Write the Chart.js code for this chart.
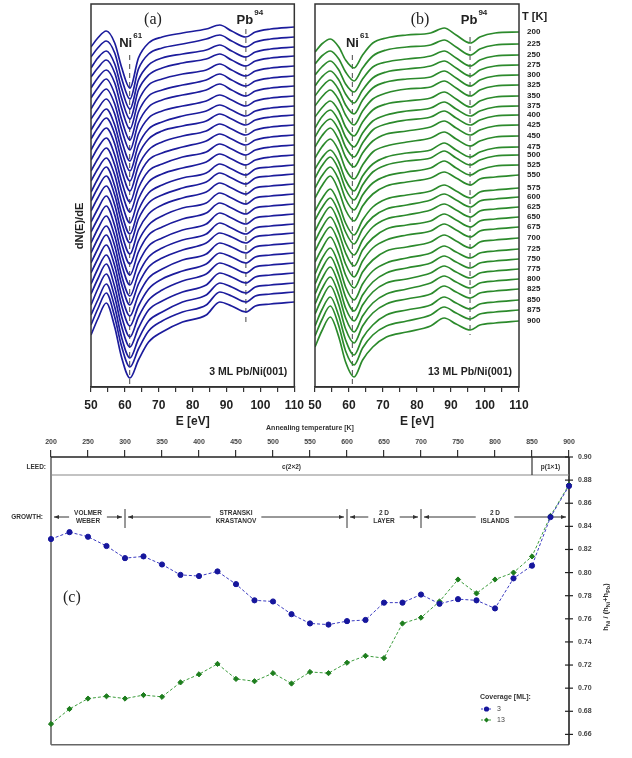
<!DOCTYPE html>
<html>
<head>
<meta charset="utf-8">
<title>Pb/Ni(001) Auger spectra vs annealing</title>
<script src="https://cdn.jsdelivr.net/npm/chart.js@4.4.1/dist/chart.umd.min.js"></script>
<style>
  html, body { margin: 0; padding: 0; background: #fff; }
  #page { position: relative; width: 632px; height: 758px; overflow: hidden; }
  #page canvas { position: absolute; }
</style>
</head>
<body>
<div id="page">
  <canvas id="chartA" width="310" height="430" style="left:0;top:0"></canvas>
  <canvas id="chartB" width="332" height="430" style="left:300px;top:0"></canvas>
  <canvas id="chartC" width="632" height="338" style="left:0;top:420px"></canvas>
</div>
<script>
const SANS = "'Liberation Sans', Arial, sans-serif";
const SERIF = "'Liberation Serif', 'Times New Roman', serif";
Chart.defaults.font.family = SANS;

const energyKeys = [50, 52, 54.5, 57, 59, 61.5, 64, 67, 71, 77, 84, 88, 91.5, 95.7, 98.5, 103, 110];
const tempsK = [200, 225, 250, 275, 300, 325, 350, 375, 400, 425, 450, 475, 500, 525, 550,
                575, 600, 625, 650, 675, 700, 725, 750, 775, 800, 825, 850, 875, 900];

// vertical stacking offsets of each spectrum (a.u.)
const offsetsA = [0, -1.0, -2.0, -2.9, -3.9, -4.9, -5.9, -6.9, -7.9, -8.8, -9.8, -10.8, -11.8, -12.8, -13.8,
                  -14.7, -15.7, -16.7, -17.7, -18.7, -19.7, -20.6, -21.6, -22.6, -23.6, -24.6, -25.6, -26.5, -27.5];
const offsetsB = [0, -1.2, -2.3, -3.3, -4.3, -5.3, -6.4, -7.4, -8.3, -9.3, -10.4, -11.5, -12.3, -13.3, -14.3,
                  -15.6, -16.5, -17.5, -18.5, -19.5, -20.6, -21.7, -22.7, -23.7, -24.7, -25.7, -26.8, -27.8, -28.9];

// dN(E)/dE, 3 ML Pb/Ni(001), one row per temperature
const spectraA = [
  [-2.0,-1.1,-0.4,-1.6,-4.0,-6.1,-3.1,-1.6,-1.0,-0.6,-0.2,0.2,-0.4,-1.0,-0.5,-0.2,0],
  [-2.0,-1.1,-0.4,-1.6,-4.1,-6.2,-3.2,-1.7,-1.1,-0.7,-0.2,0.2,-0.4,-1.0,-0.5,-0.2,0],
  [-2.1,-1.1,-0.4,-1.7,-4.1,-6.2,-3.3,-1.8,-1.1,-0.7,-0.3,0.2,-0.4,-1.0,-0.5,-0.2,0],
  [-2.1,-1.2,-0.4,-1.7,-4.2,-6.3,-3.4,-1.9,-1.2,-0.7,-0.3,0.2,-0.4,-1.0,-0.5,-0.2,0],
  [-2.2,-1.2,-0.4,-1.7,-4.2,-6.3,-3.5,-1.9,-1.3,-0.8,-0.4,0.2,-0.4,-1.0,-0.5,-0.2,0],
  [-2.2,-1.2,-0.3,-1.8,-4.3,-6.4,-3.6,-2.0,-1.4,-0.9,-0.4,0.2,-0.4,-1.0,-0.5,-0.2,0],
  [-2.3,-1.2,-0.3,-1.8,-4.3,-6.4,-3.7,-2.1,-1.4,-0.9,-0.4,0.2,-0.4,-1.0,-0.5,-0.2,0],
  [-2.3,-1.3,-0.3,-1.8,-4.4,-6.5,-3.8,-2.2,-1.5,-1.0,-0.5,0.1,-0.4,-1.0,-0.5,-0.2,0],
  [-2.4,-1.3,-0.3,-1.9,-4.4,-6.5,-3.9,-2.3,-1.6,-1.0,-0.5,0.1,-0.4,-1.0,-0.5,-0.2,0],
  [-2.4,-1.3,-0.3,-1.9,-4.5,-6.6,-4.0,-2.4,-1.6,-1.1,-0.6,0.1,-0.4,-1.0,-0.5,-0.2,0],
  [-2.5,-1.3,-0.3,-1.9,-4.5,-6.6,-4.1,-2.5,-1.7,-1.1,-0.6,0.1,-0.4,-1.0,-0.5,-0.2,0],
  [-2.5,-1.3,-0.3,-2.0,-4.6,-6.7,-4.2,-2.5,-1.8,-1.2,-0.6,0.1,-0.4,-1.0,-0.5,-0.2,0],
  [-2.6,-1.4,-0.3,-2.0,-4.6,-6.7,-4.3,-2.6,-1.9,-1.2,-0.7,0.1,-0.4,-1.0,-0.5,-0.2,0],
  [-2.6,-1.4,-0.3,-2.0,-4.7,-6.8,-4.4,-2.7,-1.9,-1.3,-0.7,0.1,-0.4,-1.0,-0.5,-0.2,0],
  [-2.7,-1.4,-0.2,-2.1,-4.8,-6.9,-4.5,-2.8,-2.0,-1.3,-0.8,0.1,-0.4,-1.0,-0.4,-0.2,0],
  [-2.7,-1.4,-0.2,-2.1,-4.8,-6.9,-4.5,-2.9,-2.1,-1.4,-0.8,0.1,-0.4,-1.0,-0.4,-0.2,0],
  [-2.7,-1.4,-0.2,-2.1,-4.9,-7.0,-4.6,-3.0,-2.1,-1.4,-0.8,0.1,-0.4,-1.0,-0.4,-0.2,0],
  [-2.8,-1.5,-0.2,-2.1,-4.9,-7.0,-4.7,-3.1,-2.2,-1.4,-0.9,0.1,-0.4,-1.0,-0.4,-0.2,0],
  [-2.8,-1.5,-0.2,-2.2,-5.0,-7.1,-4.8,-3.1,-2.3,-1.5,-0.9,0.1,-0.4,-1.0,-0.4,-0.2,0],
  [-2.9,-1.5,-0.2,-2.2,-5.0,-7.1,-4.9,-3.2,-2.4,-1.6,-1.0,0.1,-0.4,-1.0,-0.4,-0.2,0],
  [-2.9,-1.5,-0.2,-2.2,-5.1,-7.2,-5.0,-3.3,-2.4,-1.6,-1.0,0.1,-0.4,-1.0,-0.4,-0.2,0],
  [-3.0,-1.6,-0.2,-2.3,-5.1,-7.2,-5.1,-3.4,-2.5,-1.7,-1.0,0.0,-0.4,-1.0,-0.4,-0.2,0],
  [-3.0,-1.6,-0.2,-2.3,-5.2,-7.3,-5.2,-3.5,-2.6,-1.7,-1.1,0.0,-0.4,-1.0,-0.4,-0.2,0],
  [-3.1,-1.6,-0.2,-2.3,-5.2,-7.3,-5.3,-3.6,-2.6,-1.8,-1.1,0.0,-0.4,-1.0,-0.4,-0.2,0],
  [-3.1,-1.6,-0.1,-2.4,-5.3,-7.4,-5.4,-3.7,-2.7,-1.8,-1.1,0.0,-0.4,-1.0,-0.4,-0.2,0],
  [-3.2,-1.6,-0.1,-2.4,-5.3,-7.4,-5.5,-3.7,-2.8,-1.9,-1.2,0.0,-0.4,-1.0,-0.4,-0.2,0],
  [-3.2,-1.7,-0.1,-2.4,-5.4,-7.5,-5.6,-3.8,-2.9,-1.9,-1.2,0.0,-0.4,-1.0,-0.4,-0.2,0],
  [-3.3,-1.7,-0.1,-2.5,-5.4,-7.5,-5.7,-3.9,-2.9,-2.0,-1.3,0.0,-0.4,-1.0,-0.4,-0.2,0],
  [-3.3,-1.7,-0.1,-2.5,-5.5,-7.6,-5.8,-4.0,-3.0,-2.0,-1.3,0.0,-0.4,-1.0,-0.4,-0.2,0]
];

// dN(E)/dE, 13 ML Pb/Ni(001)
const spectraB = [
  [-2.0,-1.2,-0.7,-1.5,-2.8,-3.6,-2.3,-1.1,-0.6,-0.3,-0.1,0.4,-0.3,-1.1,-0.5,-0.1,0],
  [-2.0,-1.2,-0.7,-1.5,-2.8,-3.7,-2.4,-1.2,-0.6,-0.3,-0.1,0.4,-0.3,-1.1,-0.5,-0.1,0],
  [-2.0,-1.2,-0.6,-1.5,-2.9,-3.7,-2.4,-1.2,-0.7,-0.4,-0.1,0.4,-0.3,-1.1,-0.5,-0.1,0],
  [-2.1,-1.2,-0.6,-1.5,-2.9,-3.8,-2.5,-1.3,-0.7,-0.4,-0.1,0.4,-0.3,-1.1,-0.5,-0.1,0],
  [-2.1,-1.2,-0.5,-1.5,-3.0,-3.9,-2.5,-1.3,-0.7,-0.4,-0.2,0.4,-0.3,-1.1,-0.5,-0.1,0],
  [-2.1,-1.2,-0.5,-1.5,-3.0,-4.0,-2.6,-1.4,-0.8,-0.4,-0.2,0.4,-0.3,-1.1,-0.5,-0.1,0],
  [-2.1,-1.2,-0.5,-1.5,-3.1,-4.0,-2.6,-1.4,-0.8,-0.5,-0.2,0.4,-0.3,-1.1,-0.5,-0.1,0],
  [-2.2,-1.1,-0.4,-1.5,-3.1,-4.1,-2.7,-1.5,-0.9,-0.5,-0.2,0.4,-0.3,-1.0,-0.5,-0.1,0],
  [-2.2,-1.1,-0.4,-1.5,-3.2,-4.2,-2.8,-1.5,-0.9,-0.5,-0.2,0.4,-0.3,-1.0,-0.5,-0.1,0],
  [-2.2,-1.1,-0.3,-1.5,-3.2,-4.2,-2.8,-1.6,-0.9,-0.6,-0.2,0.4,-0.3,-1.0,-0.5,-0.1,0],
  [-2.2,-1.1,-0.3,-1.5,-3.3,-4.3,-2.9,-1.6,-1.0,-0.6,-0.2,0.4,-0.3,-1.0,-0.5,-0.1,0],
  [-2.2,-1.1,-0.3,-1.5,-3.3,-4.4,-2.9,-1.7,-1.0,-0.6,-0.3,0.4,-0.3,-1.0,-0.5,-0.1,0],
  [-2.3,-1.1,-0.2,-1.5,-3.4,-4.5,-3.0,-1.7,-1.0,-0.6,-0.3,0.4,-0.3,-1.0,-0.5,-0.1,0],
  [-2.3,-1.1,-0.2,-1.5,-3.4,-4.5,-3.0,-1.8,-1.1,-0.7,-0.3,0.4,-0.3,-1.0,-0.5,-0.1,0],
  [-2.3,-1.1,-0.1,-1.6,-3.5,-4.6,-3.1,-1.9,-1.1,-0.7,-0.3,0.3,-0.3,-1.0,-0.4,-0.2,0],
  [-2.3,-1.1,-0.1,-1.6,-3.5,-4.7,-3.2,-1.9,-1.1,-0.7,-0.3,0.3,-0.3,-1.0,-0.4,-0.2,0],
  [-2.3,-1.1,-0.1,-1.6,-3.5,-4.7,-3.2,-2.0,-1.2,-0.8,-0.3,0.3,-0.3,-1.0,-0.4,-0.2,0],
  [-2.4,-1.1,0.0,-1.6,-3.6,-4.8,-3.3,-2.0,-1.2,-0.8,-0.3,0.3,-0.3,-1.0,-0.4,-0.2,0],
  [-2.4,-1.1,0.0,-1.6,-3.6,-4.9,-3.3,-2.1,-1.2,-0.8,-0.4,0.3,-0.3,-1.0,-0.4,-0.2,0],
  [-2.4,-1.1,0.0,-1.6,-3.7,-5.0,-3.4,-2.1,-1.3,-0.8,-0.4,0.3,-0.3,-1.0,-0.4,-0.2,0],
  [-2.4,-1.1,0.1,-1.6,-3.7,-5.0,-3.4,-2.2,-1.3,-0.9,-0.4,0.3,-0.3,-1.0,-0.4,-0.2,0],
  [-2.5,-1.0,0.1,-1.6,-3.8,-5.1,-3.5,-2.2,-1.4,-0.9,-0.4,0.3,-0.3,-0.9,-0.4,-0.2,0],
  [-2.5,-1.0,0.2,-1.6,-3.8,-5.2,-3.6,-2.3,-1.4,-0.9,-0.4,0.3,-0.3,-0.9,-0.4,-0.2,0],
  [-2.5,-1.0,0.2,-1.6,-3.9,-5.2,-3.6,-2.3,-1.4,-1.0,-0.4,0.3,-0.3,-0.9,-0.4,-0.2,0],
  [-2.5,-1.0,0.2,-1.6,-3.9,-5.3,-3.7,-2.4,-1.5,-1.0,-0.4,0.3,-0.3,-0.9,-0.4,-0.2,0],
  [-2.5,-1.0,0.3,-1.6,-4.0,-5.4,-3.7,-2.4,-1.5,-1.0,-0.5,0.3,-0.3,-0.9,-0.4,-0.2,0],
  [-2.6,-1.0,0.3,-1.6,-4.0,-5.5,-3.8,-2.5,-1.5,-1.0,-0.5,0.3,-0.3,-0.9,-0.4,-0.2,0],
  [-2.6,-1.0,0.4,-1.6,-4.1,-5.5,-3.8,-2.5,-1.6,-1.1,-0.5,0.3,-0.3,-0.9,-0.4,-0.2,0],
  [-2.6,-1.0,0.4,-1.6,-4.1,-5.6,-3.9,-2.6,-1.6,-1.1,-0.5,0.3,-0.3,-0.9,-0.4,-0.2,0]
];

// peak markers (Ni 61, Pb 94) as drawn on each panel
const markersA = [61.4, 95.7];
const markersB = [61.0, 95.6];

// panel (c): peak-height ratio h_Ni/(h_Ni+h_Pb)
const annealTemps = [200, 225, 250, 275, 300, 325, 350, 375, 400, 425, 450, 475, 500, 525, 550,
                     575, 600, 625, 650, 675, 700, 725, 750, 775, 800, 825, 850, 875, 900];
const ratio3ML = [0.829, 0.835, 0.831, 0.823, 0.8125, 0.814, 0.807, 0.798, 0.797, 0.801, 0.790, 0.776, 0.775, 0.764, 0.756,
                  0.755, 0.758, 0.759, 0.774, 0.774, 0.781, 0.773, 0.777, 0.776, 0.769, 0.795, 0.806, 0.848, 0.875];
const ratio13ML = [0.669, 0.682, 0.691, 0.693, 0.691, 0.694, 0.6925, 0.705, 0.712, 0.721, 0.708, 0.706, 0.713, 0.704, 0.714,
                   0.713, 0.722, 0.728, 0.726, 0.756, 0.761, 0.775, 0.794, 0.782, 0.794, 0.800, 0.814, 0.849, 0.876];
const ratioTicks = [0.66, 0.68, 0.70, 0.72, 0.74, 0.76, 0.78, 0.80, 0.82, 0.84, 0.86, 0.88, 0.90];

const leedPhases = ['c(2\u00d72)', 'p(1\u00d71)'];
const leedFrom = [200, 850];
const leedTo = [850, 900];
const growthPhases = ['VOLMER\nWEBER', 'STRANSKI\nKRASTANOV', '2 D\nLAYER', '2 D\nISLANDS'];
const growthFrom = [200, 300, 600, 700];
const growthTo = [300, 600, 700, 900];

function spectrumSets(spectra, offsets, color) {
  return spectra.map((row, i) => ({
    label: tempsK[i] + ' K',
    data: row.map((v, k) => ({ x: energyKeys[k], y: v + offsets[i] })),
    borderColor: color,
    borderWidth: 1.7,
    pointRadius: 0,
    cubicInterpolationMode: 'monotone',
    fill: false
  }));
}

function energyAxis() {
  return {
    type: 'linear', position: 'bottom', min: 50, max: 110,
    ticks: {
      stepSize: 5, autoSkip: false, maxRotation: 0, padding: 6, color: '#222',
      font: { size: 12, weight: 'bold' },
      callback: v => (v % 10 === 0 ? v : '')
    },
    grid: { drawOnChartArea: false, drawTicks: true, tickLength: 5, color: '#333', lineWidth: 1.2 },
    border: { color: '#333', width: 1.5 },
    title: { display: true, text: 'E [eV]', color: '#222', font: { size: 12, weight: 'bold' }, padding: 0 },
    afterFit: s => { s.height = 42; }
  };
}

function supText(ctx, base, sup, cx, y) {
  ctx.font = 'bold 13px ' + SANS;
  const wb = ctx.measureText(base).width;
  ctx.font = 'bold 8px ' + SANS;
  const ws = ctx.measureText(sup).width;
  const x0 = cx - (wb + ws + 1) / 2;
  ctx.textAlign = 'left';
  ctx.textBaseline = 'middle';
  ctx.font = 'bold 13px ' + SANS;
  ctx.fillText(base, x0, y);
  ctx.font = 'bold 8px ' + SANS;
  ctx.fillText(sup, x0 + wb + 1, y - 7);
}

function spectraDecor(cfg) {
  return {
    id: 'decor' + cfg.tag,
    beforeDatasetsDraw(chart) {
      const { ctx, chartArea: a, scales: { x, y } } = chart;
      ctx.save();
      ctx.strokeStyle = '#666';
      ctx.lineWidth = 1.2;
      ctx.setLineDash([5, 4]);
      const xn = x.getPixelForValue(cfg.markers[0]);
      ctx.beginPath(); ctx.moveTo(xn, a.top + 51); ctx.lineTo(xn, a.bottom); ctx.stroke();
      const last = cfg.spectra.length - 1;
      const xp = x.getPixelForValue(cfg.markers[1]);
      const yLow = y.getPixelForValue(cfg.offsets[last] + cfg.spectra[last][13]) + cfg.pbTail;
      ctx.beginPath(); ctx.moveTo(xp, a.top + cfg.pbTop); ctx.lineTo(xp, yLow); ctx.stroke();
      ctx.restore();
    },
    afterDraw(chart) {
      const { ctx, chartArea: a, scales: { x } } = chart;
      ctx.save();
      ctx.strokeStyle = '#333';
      ctx.lineWidth = 1.5;
      ctx.strokeRect(a.left, a.top, a.right - a.left, a.bottom - a.top);
      ctx.fillStyle = '#222';
      ctx.font = '16px ' + SERIF;
      ctx.textAlign = 'center';
      ctx.textBaseline = 'middle';
      ctx.fillText(cfg.tag, cfg.tagX, 20);
      supText(ctx, 'Ni', '61', x.getPixelForValue(cfg.markers[0]) + cfg.niShift, 43);
      supText(ctx, 'Pb', '94', x.getPixelForValue(cfg.markers[1]) + 4, 20);
      ctx.font = 'bold 10.5px ' + SANS;
      ctx.textAlign = 'right';
      ctx.fillText(cfg.sample, a.right - 7, 372);
      if (cfg.extra) cfg.extra(ctx, a);
      ctx.restore();
    }
  };
}

new Chart(document.getElementById('chartA'), {
  type: 'line',
  data: { datasets: spectrumSets(spectraA, offsetsA, '#1c1c9c') },
  options: {
    responsive: false, animation: false, events: [],
    layout: { padding: { left: 91, right: 14, top: 4, bottom: 1 } },
    plugins: { legend: { display: false }, tooltip: { enabled: false } },
    scales: {
      x: energyAxis(),
      y: { display: false, min: -36.0, max: 2.3 }
    }
  },
  plugins: [spectraDecor({
    tag: '(a)', tagX: 153, markers: markersA, spectra: spectraA, offsets: offsetsA,
    pbTop: 25, pbTail: 10, niShift: 1, sample: '3 ML Pb/Ni(001)',
    extra: (ctx) => {
      ctx.translate(80, 226);
      ctx.rotate(-Math.PI / 2);
      ctx.font = 'bold 11px ' + SANS;
      ctx.textAlign = 'center';
      ctx.fillText('dN(E)/dE', 0, 0);
    }
  })]
});

new Chart(document.getElementById('chartB'), {
  type: 'line',
  data: { datasets: spectrumSets(spectraB, offsetsB, '#2c8a2c') },
  options: {
    responsive: false, animation: false, events: [],
    layout: { padding: { left: 15, right: 0, top: 4, bottom: 1 } },
    plugins: { legend: { display: false }, tooltip: { enabled: false } },
    scales: {
      x: energyAxis(),
      y: {
        position: 'right', min: -35.5, max: 2.8,
        afterBuildTicks: s => { s.ticks = offsetsB.map(v => ({ value: v })); },
        ticks: { autoSkip: false, padding: 8, color: '#222', font: { size: 8, weight: 'bold' },
                 callback: (v, i) => tempsK[i] },
        grid: { display: false, drawTicks: false },
        border: { display: false },
        afterFit: s => { s.width = 113; s.paddingTop = 0; s.paddingBottom = 0; }
      }
    }
  },
  plugins: [spectraDecor({
    tag: '(b)', tagX: 120, markers: markersB, spectra: spectraB, offsets: offsetsB,
    pbTop: 33, pbTail: 5, niShift: 5, sample: '13 ML Pb/Ni(001)',
    extra: (ctx, a) => {
      ctx.font = 'bold 11px ' + SANS;
      ctx.textAlign = 'left';
      ctx.fillText('T [K]', a.right + 3, 17);
    }
  })]
});

const panelCDecor = {
  id: 'panelCDecor',
  beforeDatasetsDraw(chart) {
    const { ctx, chartArea: a, scales: { x, y } } = chart;
    const seg = (x0, y0, x1, y1) => { ctx.beginPath(); ctx.moveTo(x0, y0); ctx.lineTo(x1, y1); ctx.stroke(); };
    const arrowLine = (xa, xb, yy) => {
      seg(xa, yy, xb, yy);
      const d = xb > xa ? 1 : -1;
      ctx.beginPath();
      ctx.moveTo(xb, yy);
      ctx.lineTo(xb - d * 5, yy - 2);
      ctx.lineTo(xb - d * 5, yy + 2);
      ctx.closePath();
      ctx.fill();
    };
    ctx.save();
    // frame
    ctx.lineWidth = 1.6;
    ctx.strokeStyle = '#666';
    seg(a.left, a.top, a.left, a.bottom);
    seg(a.left, a.bottom, a.right, a.bottom);
    ctx.strokeStyle = '#222';
    seg(a.left, a.top, a.right, a.top);
    seg(a.right, a.top, a.right, a.bottom);
    ctx.lineWidth = 1.2;
    ratioTicks.forEach(v => { const py = y.getPixelForValue(v); seg(a.right - 4, py, a.right + 4, py); });

    // LEED row
    const leedBottom = a.top + 18;
    ctx.strokeStyle = '#888';
    seg(a.left, leedBottom, a.right, leedBottom);
    ctx.strokeStyle = '#333';
    leedFrom.slice(1).forEach(t => { const px = x.getPixelForValue(t); seg(px, a.top, px, leedBottom); });
    ctx.fillStyle = '#333';
    ctx.textBaseline = 'middle';
    ctx.font = 'bold 6.5px ' + SANS;
    ctx.textAlign = 'center';
    leedPhases.forEach((p, i) => {
      ctx.fillText(p, (x.getPixelForValue(leedFrom[i]) + x.getPixelForValue(leedTo[i])) / 2, a.top + 10);
    });
    ctx.textAlign = 'right';
    ctx.fillText('LEED:', a.left - 5, a.top + 10);

    // growth modes
    const gy = a.top + 60;
    ctx.fillText('GROWTH:', a.left - 8, gy);
    ctx.lineWidth = 1;
    growthPhases.forEach((p, i) => {
      const x0 = x.getPixelForValue(growthFrom[i]);
      const x1 = x.getPixelForValue(growthTo[i]);
      const lines = p.split('\n');
      const w = Math.max(...lines.map(s => ctx.measureText(s).width));
      const cx = (x0 + x1) / 2;
      ctx.textAlign = 'center';
      lines.forEach((s, k) => ctx.fillText(s, cx, gy - 4 + k * 8));
      arrowLine(cx - w / 2 - 5, x0 + 3, gy);
      arrowLine(cx + w / 2 + 5, x1 - 3, gy);
      if (i > 0) seg(x0, gy - 8, x0, gy + 11);
    });
    ctx.restore();
  },
  afterDraw(chart) {
    const { ctx } = chart;
    ctx.save();
    ctx.fillStyle = '#222';
    ctx.textBaseline = 'middle';
    ctx.textAlign = 'left';
    ctx.font = '16px ' + SERIF;
    ctx.fillText('(c)', 63, 178);

    // legend
    const lx = 480, ly = 277;
    ctx.font = 'bold 7px ' + SANS;
    ctx.fillStyle = '#333';
    ctx.fillText('Coverage [ML]:', lx, ly);
    chart.data.datasets.forEach((ds, k) => {
      const yy = ly + 12 + k * 11;
      ctx.strokeStyle = ds.borderColor;
      ctx.lineWidth = 1;
      ctx.setLineDash([2, 2]);
      ctx.beginPath(); ctx.moveTo(lx + 1, yy); ctx.lineTo(lx + 12, yy); ctx.stroke();
      ctx.setLineDash([]);
      ctx.fillStyle = ds.pointBackgroundColor;
      ctx.beginPath();
      if (ds.pointStyle === 'rectRot') {
        ctx.moveTo(lx + 6.5, yy - 2.6); ctx.lineTo(lx + 9.1, yy); ctx.lineTo(lx + 6.5, yy + 2.6); ctx.lineTo(lx + 3.9, yy);
        ctx.closePath();
      } else {
        ctx.arc(lx + 6.5, yy, 2.6, 0, Math.PI * 2);
      }
      ctx.fill();
      ctx.fillStyle = '#444';
      ctx.font = '7px ' + SANS;
      ctx.fillText(ds.label, lx + 17, yy);
    });

    // right axis title h_Ni / (h_Ni + h_Pb)
    ctx.translate(606, 187);
    ctx.rotate(-Math.PI / 2);
    const pieces = [['h', 0], ['Ni', 1], [' / (', 0], ['h', 0], ['Ni', 1], ['+', 0], ['h', 0], ['Pb', 1], [')', 0]];
    const fontFor = sub => (sub ? 'bold 5.5px ' : 'bold 7.5px ') + SANS;
    let total = 0;
    pieces.forEach(([s, sub]) => { ctx.font = fontFor(sub); total += ctx.measureText(s).width; });
    let px = -total / 2;
    ctx.fillStyle = '#333';
    pieces.forEach(([s, sub]) => {
      ctx.font = fontFor(sub);
      ctx.fillText(s, px, sub ? 2.5 : 0);
      px += ctx.measureText(s).width;
    });
    ctx.restore();
  }
};

new Chart(document.getElementById('chartC'), {
  type: 'line',
  data: {
    datasets: [
      {
        label: '3',
        data: annealTemps.map((t, i) => ({ x: t, y: ratio3ML[i] })),
        borderColor: '#3a3ac0', borderWidth: 1, borderDash: [3, 2], tension: 0,
        pointStyle: 'circle', pointRadius: 2.6,
        pointBackgroundColor: '#16169c', pointBorderColor: '#16169c', clip: false
      },
      {
        label: '13',
        data: annealTemps.map((t, i) => ({ x: t, y: ratio13ML[i] })),
        borderColor: '#3c9c3c', borderWidth: 1, borderDash: [3, 2], tension: 0,
        pointStyle: 'rectRot', pointRadius: 2.6,
        pointBackgroundColor: '#1d7d1d', pointBorderColor: '#1d7d1d', clip: false
      }
    ]
  },
  options: {
    responsive: false, animation: false, events: [],
    layout: { padding: { left: 51, right: 0, top: 0, bottom: 2 } },
    plugins: { legend: { display: false }, tooltip: { enabled: false } },
    scales: {
      x: {
        type: 'linear', position: 'top', min: 200, max: 900,
        ticks: { stepSize: 50, autoSkip: false, maxRotation: 0, padding: 4, color: '#444',
                 font: { size: 7, weight: 'bold' } },
        grid: { drawOnChartArea: false, drawTicks: true, tickLength: 7, color: '#333', lineWidth: 1.2 },
        border: { display: false },
        title: { display: true, text: 'Annealing temperature [K]', color: '#333',
                 font: { size: 7, weight: 'bold' }, padding: { top: 4, bottom: 0 } },
        afterFit: s => { s.height = 37; }
      },
      y: {
        position: 'right', min: 0.651, max: 0.90,
        afterBuildTicks: s => { s.ticks = ratioTicks.map(v => ({ value: v })); },
        ticks: { autoSkip: false, padding: 9, color: '#444', font: { size: 7, weight: 'bold' },
                 callback: v => v.toFixed(2) },
        grid: { display: false, drawTicks: false },
        border: { display: false },
        afterFit: s => { s.width = 63; }
      }
    }
  },
  plugins: [panelCDecor]
});
</script>
</body>
</html>
